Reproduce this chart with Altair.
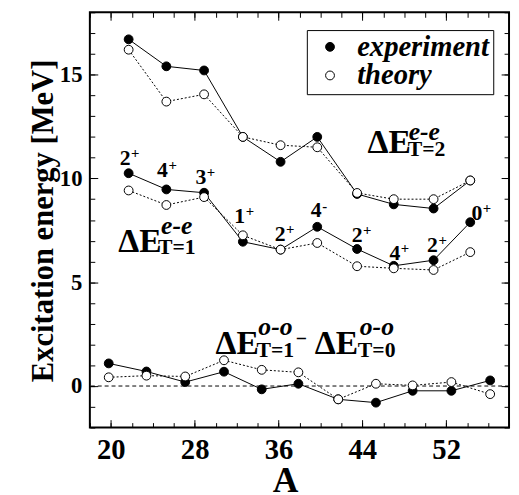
import altair as alt
import pandas as pd

# ---------------- data ----------------
A_ee = [21.7, 25.3, 28.9, 32.6, 36.2, 39.7, 43.5, 47.0, 50.8, 54.3]
exp_T2 = [16.7, 15.4, 15.2, 12.0, 10.8, 12.0, 9.25, 8.75, 8.55, 9.9]
th_T2 = [16.2, 13.7, 14.05, 12.0, 11.6, 11.5, 9.3, 9.0, 9.0, 9.9]
exp_T1 = [10.25, 9.47, 9.31, 6.95, 6.57, 7.67, 6.6, 5.79, 6.06, 7.89]
th_T1 = [9.42, 8.72, 9.1, 7.26, 6.57, 6.89, 5.77, 5.67, 5.59, 6.45]

A_oo = [19.8, 23.4, 27.1, 30.8, 34.4, 37.9, 41.7, 45.3, 48.8, 52.5, 56.2]
exp_oo = [1.09, 0.7, 0.19, 0.69, -0.16, 0.11, -0.64, -0.8, -0.23, -0.23, 0.27]
th_oo = [0.42, 0.5, 0.46, 1.24, 0.78, 0.66, -0.64, 0.11, 0.03, 0.19, -0.39]

series_names = ["experiment", "theory"]

# spin/parity labels of the T=1 experimental points
spin_digit = ["2", "4", "3", "1", "2", "4", "2", "4", "2", "0"]
spin_sign = ["+", "+", "+", "+", "+", "-", "+", "+", "+", "+"]
spin_A = [21.36, 24.93, 28.59, 32.3, 36.15, 39.6, 43.5, 47.1, 50.7, 54.93]
spin_E = [10.66, 10.05, 9.72, 7.84, 7.0, 8.12, 6.92, 6.06, 6.45, 8.01]

# annotation labels (in data coordinates)
ann_text = ["ΔE", "e-e", "T=2", "ΔE", "e-e", "T=1",
            "ΔE", "o-o", "T=1", "−", "ΔE", "o-o", "T=0"]
ann_A = [44.5, 48.42, 48.34, 20.7, 24.79, 24.5,
         30.0, 34.08, 33.9, 37.65, 39.45, 43.76, 43.57]
ann_E = [11.22, 11.85, 11.1, 6.45, 7.32, 6.34,
         1.52, 2.44, 1.41, 1.97, 1.52, 2.44, 1.41]
ann_kind = ["big", "sup", "sub", "big", "sup", "sub",
            "big", "sup", "sub", "minus", "big", "sup", "sub"]

x_major = [20, 28, 36, 44, 52]
x_minor = list(range(18, 59, 2))
y_major = [0, 5, 10, 15]
y_minor = list(range(-2, 19))

# ---------------- tables ----------------
rows = []
for g, A, e, t in [("T2", A_ee, exp_T2, th_T2),
                   ("T1", A_ee, exp_T1, th_T1),
                   ("oo", A_oo, exp_oo, th_oo)]:
    for a, v in zip(A, e):
        rows.append({"A": a, "E": v, "series": series_names[0], "group": g})
    for a, v in zip(A, t):
        rows.append({"A": a, "E": v, "series": series_names[1], "group": g})
df = pd.DataFrame(rows)
df_exp = df[df.series == "experiment"]
df_th = df[df.series == "theory"]

spin_df = pd.DataFrame({"A": spin_A, "E": spin_E, "d": spin_digit, "s": spin_sign})
ann_df = pd.DataFrame({"A": ann_A, "E": ann_E, "t": ann_text, "k": ann_kind})

FONT = "Liberation Serif"
xs = alt.Scale(domain=[18, 58], nice=False, zero=False)
ys = alt.Scale(domain=[-2, 18], nice=False, zero=False)

MAJ, MIN = 8, 5
common = dict(tickColor="black", tickWidth=1, domain=False, grid=False)

axis_bottom = alt.Axis(
    orient="bottom", offset=-MAJ, tickSize=MAJ, values=x_major,
    labelOverlap=False, labelFlush=False,
    labelFont=FONT, labelFontWeight="bold", labelFontSize=29, labelColor="black",
    labelPadding=8,
    title="A", titleFont=FONT, titleFontWeight="bold", titleFontSize=36,
    titleColor="black", titleX=198, titleY=73, titleBaseline="alphabetic",
    **common,
)
axis_left = alt.Axis(
    orient="left", offset=-MAJ, tickSize=MAJ, values=y_major,
    labelOverlap=False, labelFlush=False,
    labelFont=FONT, labelFontWeight="bold", labelFontSize=23, labelColor="black",
    labelPadding=8,
    title="Excitation energy [MeV]", titleFont=FONT, titleFontWeight="bold",
    titleFontSize=31, titleColor="black", titleX=-46, titleY=211,
    titleBaseline="alphabetic", titleAngle=270,
    **common,
)
axis_top = alt.Axis(orient="top", offset=-MAJ, tickSize=MAJ, values=x_major,
                    labels=False, title=None, **common)
axis_right = alt.Axis(orient="right", offset=-MAJ, tickSize=MAJ, values=y_major,
                      labels=False, title=None, **common)
axis_bottom_m = alt.Axis(orient="bottom", offset=-MIN, tickSize=MIN, values=x_minor,
                         labels=False, title=None, **common)
axis_left_m = alt.Axis(orient="left", offset=-MIN, tickSize=MIN, values=y_minor,
                       labels=False, title=None, **common)
axis_top_m = alt.Axis(orient="top", offset=-MIN, tickSize=MIN, values=x_minor,
                      labels=False, title=None, **common)
axis_right_m = alt.Axis(orient="right", offset=-MIN, tickSize=MIN, values=y_minor,
                        labels=False, title=None, **common)

legend = alt.Legend(
    title=None, orient="none", legendX=220, legendY=18, direction="vertical",
    fillColor="white", strokeColor="black", padding=4,
    labelFont=FONT, labelFontStyle="italic", labelFontWeight="bold",
    labelFontSize=29, labelColor="black", labelOffset=13,
    labelExpr="datum.label + '\u00a0'",
    symbolType="circle", symbolSize=80, symbolStrokeColor="black",
    symbolStrokeWidth=1, rowPadding=0, symbolOffset=5, clipHeight=26,
)
fill_enc = alt.Fill("series:N",
                    scale=alt.Scale(domain=series_names, range=["black", "white"]),
                    legend=legend)

zero = alt.Chart(pd.DataFrame({"E": [0]})).mark_rule(
    color="black", strokeWidth=1, strokeDash=[4, 3]
).encode(y=alt.Y("E:Q", scale=ys, axis=None))

line_exp = alt.Chart(df_exp).mark_line(color="black", strokeWidth=1).encode(
    x=alt.X("A:Q", scale=xs, axis=axis_bottom),
    y=alt.Y("E:Q", scale=ys, axis=axis_left),
    detail="group:N", order="A:Q",
)
line_th = alt.Chart(df_th).mark_line(color="black", strokeWidth=1, strokeDash=[2, 2]).encode(
    x=alt.X("A:Q", scale=xs, axis=axis_top),
    y=alt.Y("E:Q", scale=ys, axis=axis_right),
    detail="group:N", order="A:Q",
)
pts_exp = alt.Chart(df_exp).mark_circle(size=80, stroke="black", strokeWidth=1, opacity=1).encode(
    x=alt.X("A:Q", scale=xs, axis=axis_bottom_m),
    y=alt.Y("E:Q", scale=ys, axis=axis_left_m),
    fill=fill_enc,
)
pts_th = alt.Chart(df_th).mark_circle(size=80, stroke="black", strokeWidth=1, opacity=1).encode(
    x=alt.X("A:Q", scale=xs, axis=axis_top_m),
    y=alt.Y("E:Q", scale=ys, axis=axis_right_m),
    fill=fill_enc,
)

xy = dict(x=alt.X("A:Q", scale=xs, axis=None), y=alt.Y("E:Q", scale=ys, axis=None))

spin_d = alt.Chart(spin_df).mark_text(
    font=FONT, fontWeight="bold", fontSize=22, align="center", baseline="alphabetic", color="black"
).encode(text="d:N", **xy)
spin_s = alt.Chart(spin_df).mark_text(
    font=FONT, fontWeight="bold", fontSize=15, align="left", baseline="alphabetic",
    dx=6, dy=-7, color="black"
).encode(text="s:N", **xy)

def ann_layer(kind, size, style="normal"):
    return alt.Chart(ann_df).transform_filter(alt.datum.k == kind).mark_text(
        font=FONT, fontWeight="bold", fontStyle=style, fontSize=size,
        align="left", baseline="alphabetic", color="black"
    ).encode(text="t:N", **xy)

ann_big = ann_layer("big", 34)
ann_sup = ann_layer("sup", 26, "italic")
ann_sub = ann_layer("sub", 22)
ann_min = ann_layer("minus", 20)

shadow = alt.Chart(pd.DataFrame({"k": [0]})).mark_rect(color="black").encode(
    x=alt.value(225), x2=alt.value(403), y=alt.value(23), y2=alt.value(83)
)

chart = alt.layer(
    line_exp, line_th, zero, pts_exp, pts_th,
    spin_d, spin_s, ann_big, ann_sup, ann_sub, ann_min, shadow,
).resolve_axis(x="independent", y="independent").properties(
    width=425, height=421,
    autosize=alt.AutoSizeParams(type="none"),
    padding={"left": 83, "top": 1, "right": 2, "bottom": 65},
    background="white",
).configure_view(stroke="black", strokeWidth=2)

chart.save("out.html", embed_options={"renderer": "svg", "actions": False})
